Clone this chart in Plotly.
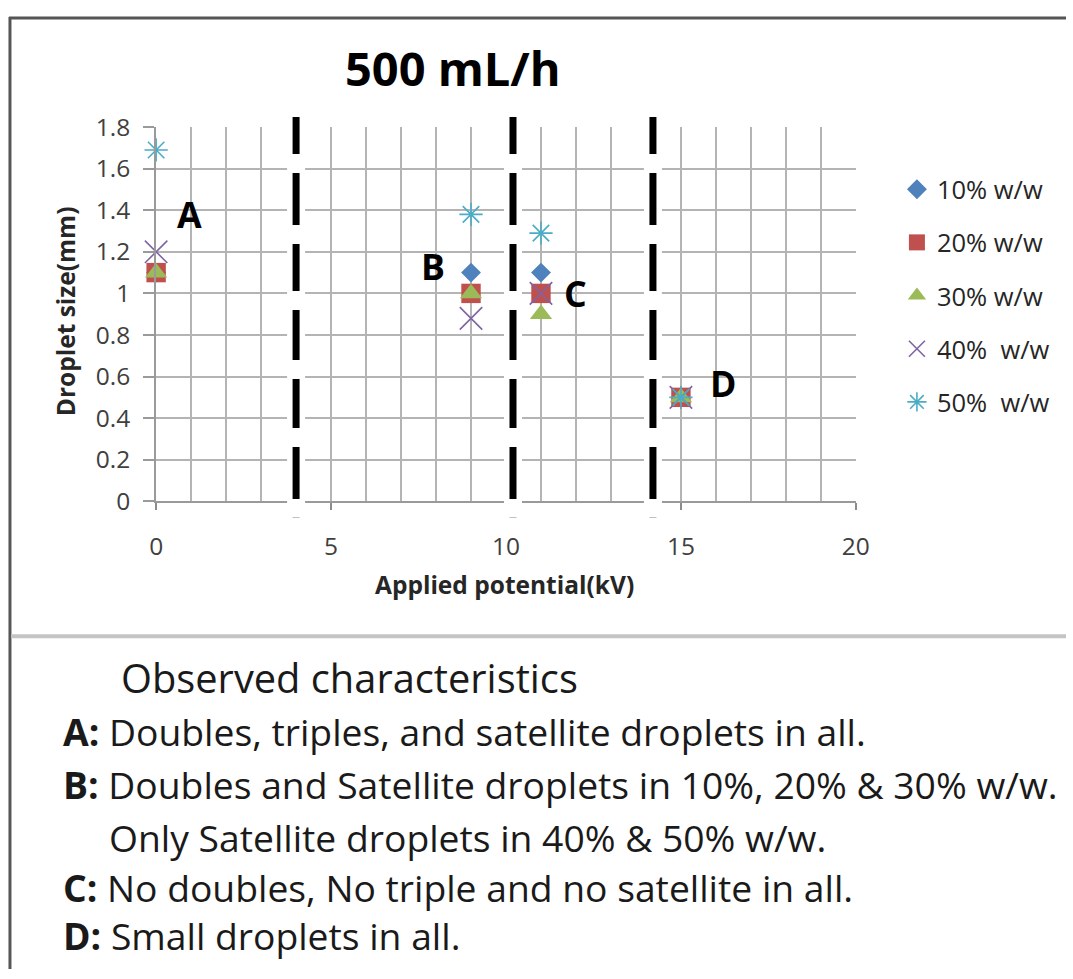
import plotly.graph_objects as go

# Figure canvas and the page-to-figure placement used for layout coordinates
WF, HF = 1080, 985
SX, SY = 0.9795, 0.966
OX, OY = 8.2, 18.6

# Applied potential (kV) and droplet size (mm) for each concentration
potential = [0, 9, 11, 15]
series_names = ["10% w/w", "20% w/w", "30% w/w", "40%  w/w", "50%  w/w"]
size_10 = [1.1, 1.1, 1.1, 0.5]
size_20 = [1.1, 1.0, 1.0, 0.5]
size_30 = [1.1, 1.0, 0.9, 0.5]
size_40 = [1.2, 0.88, 1.0, 0.5]
size_50 = [1.69, 1.38, 1.29, 0.5]

# Regime boundaries (kV)
boundaries = [4.0, 10.2, 14.2]

# Regime labels
region_labels = ["A", "B", "C", "D"]
region_x = [0.95, 7.9, 12.0, 16.2]
region_y = [1.38, 1.13, 1.0, 0.57]

notes = [
    "<b>A:</b> Doubles, triples, and satellite droplets in all.",
    "<b>B:</b> Doubles and Satellite droplets in 10%, 20% & 30% w/w.",
    "Only Satellite droplets in 40% & 50% w/w.",
    "<b>C:</b> No doubles, No triple and no satellite in all.",
    "<b>D:</b> Small droplets in all.",
]

FONT = "Open Sans"
K = 1 / SX  # size factor


def px(x):
    return (x / SX - OX) / WF


def py(y):
    return 1 - (y / SY - OY) / HF


styles = [
    dict(symbol="diamond", size=15, color="#4F81BD"),
    dict(symbol="square", size=19, color="#C0504D"),
    dict(symbol="triangle-up", size=19, color="#9BBB59"),
    dict(symbol="x-thin", size=22, color="#8064A2", line=dict(width=1.6, color="#8064A2")),
    dict(symbol="asterisk-open", size=19, color="#4BACC6", line=dict(width=1.6, color="#4BACC6")),
]

fig = go.Figure()
for i, (name, ys) in enumerate(zip(series_names, [size_10, size_20, size_30, size_40, size_50])):
    st = dict(styles[i])
    st["size"] = st["size"] * K
    fig.add_trace(go.Scatter(
        x=potential, y=ys, mode="markers", name=name,
        marker=st, cliponaxis=False, legendgroup=f"g{i}",
    ))

shapes = []
# white corridor + black dashed boundary lines
for b in boundaries:
    shapes.append(dict(type="line", xref="x", yref="paper", x0=b, x1=b,
                       y0=py(517), y1=py(116), line=dict(color="white", width=18), layer="above"))
    shapes.append(dict(type="line", xref="x", yref="paper", x0=b, x1=b,
                       y0=py(118), y1=py(518),
                       line=dict(color="black", width=7,
                                 dash="37px,19px,52px,19px,47px,19px,50px,19px,49px,19px,52px,18px,20px"),
                       layer="above"))

# outer frame and divider
shapes.append(dict(type="line", xref="paper", yref="paper", x0=px(10), x1=1.0,
                   y0=0.999, y1=0.999, line=dict(color="#555555", width=3)))
shapes.append(dict(type="line", xref="paper", yref="paper", x0=px(11), x1=px(11),
                   y0=1.0, y1=0, line=dict(color="#555555", width=3)))
shapes.append(dict(type="line", xref="paper", yref="paper", x0=px(12), x1=1.0,
                   y0=py(637), y1=py(637), line=dict(color="#c4c4c4", width=4)))


def ann(text, x, y, size, xanchor="center", angle=0, color="#1a1a1a"):
    return dict(text=text, x=x, y=y, xref="paper", yref="paper", showarrow=False,
                xanchor=xanchor, yanchor="middle", textangle=angle,
                font=dict(family=FONT, size=size * K, color=color))


annotations = [ann("<b>500 mL/h</b>", px(454), py(69), 46, color="black")]
for lab, lx, ly in zip(region_labels, region_x, region_y):
    a = ann(f"<b>{lab}</b>", lx, ly, 35, color="black")
    a["xref"], a["yref"] = "x", "y"
    annotations.append(a)
annotations.append(ann("<b>Applied potential(kV)</b>", px(505), py(585), 24, color="#262626"))
annotations.append(ann("<b>Droplet size(mm)</b>", px(66), py(312), 24, angle=-90, color="#262626"))
annotations.append(ann("Observed characteristics", px(120), py(678), 39, xanchor="left"))
note_x = [62, 62, 108, 62, 62]
note_y = [732, 785, 838, 888, 936]
for t, nx, ny in zip(notes, note_x, note_y):
    annotations.append(ann(t, px(nx), py(ny), 36.5, xanchor="left"))

grid = "#b4b4b4"
fig.update_layout(
    width=WF, height=HF,
    margin=dict(l=0, r=0, t=0, b=0),
    paper_bgcolor="white", plot_bgcolor="white",
    showlegend=True,
    legend=dict(x=px(897), y=py(167), xanchor="left", yanchor="top",
                font=dict(family=FONT, size=25 * K, color="#262626"),
                tracegroupgap=17, itemwidth=30, bgcolor="rgba(0,0,0,0)"),
    xaxis=dict(domain=[px(157), px(856)], range=[0, 20], tick0=0, dtick=5,
               showgrid=True, gridcolor=grid, gridwidth=2,
               minor=dict(dtick=1, showgrid=True, gridcolor=grid, gridwidth=2),
               ticks="outside", ticklen=7, tickwidth=2, tickcolor="#8c8c8c",
               showline=True, linecolor="#9a9a9a", linewidth=2, zeroline=False,
               ticklabelstandoff=15,
               tickfont=dict(family=FONT, size=24 * K, color="#404040")),
    yaxis=dict(domain=[py(502), py(128)], range=[0, 1.8], tick0=0, dtick=0.2,
               showgrid=True, gridcolor=grid, gridwidth=2,
               ticks="outside", ticklen=11, tickwidth=2, tickcolor="#9a9a9a",
               showline=True, linecolor="#9a9a9a", linewidth=2, zeroline=False,
               ticklabelstandoff=8,
               tickfont=dict(family=FONT, size=24 * K, color="#404040")),
    shapes=shapes,
    annotations=annotations,
)

fig.write_html("out.html")
